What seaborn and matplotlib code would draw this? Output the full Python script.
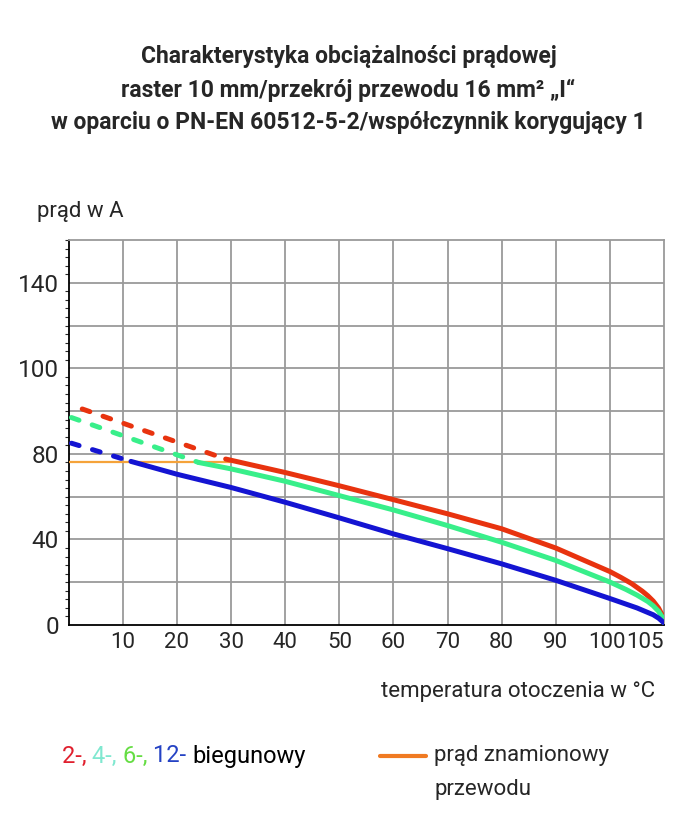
import matplotlib
matplotlib.use("Agg")
import matplotlib.pyplot as plt
import matplotlib.transforms as mtransforms
import seaborn as sns
import pandas as pd
import numpy as np
from matplotlib.ticker import MultipleLocator

sns.set_style("white")
plt.rcParams['font.family'] = ['Roboto', 'DejaVu Sans']

# ---- data ----
red_dash_t = [2.5, 29.0]
red_dash_a = [101.0, 77.6]
red_t = [29.0, 40, 50, 60, 70, 80, 90, 100, 102, 104, 106, 107, 108, 109, 109.6, 110]
red_a = [77.6, 71.3, 65.1, 58.6, 52.0, 45.0, 36.0, 25.0, 22.3, 19.4, 15.8, 13.7, 11.2, 7.9, 5.0, 1.0]

green_dash_t = [0.5, 24.0]
green_dash_a = [97.0, 76.0]
green_t = [24.0, 30, 40, 50, 60, 70, 80, 90, 100, 103, 105, 107, 108, 109, 109.6, 110]
green_a = [76.0, 73.0, 67.2, 60.5, 53.8, 46.5, 38.7, 30.2, 20.1, 16.6, 14.0, 11.0, 9.0, 6.4, 4.0, 1.0]

blue_dash_t = [0.5, 11.5]
blue_dash_a = [85.0, 76.5]
blue_t = [11.5, 20, 30, 40, 50, 60, 70, 80, 90, 100, 105, 108, 109, 110]
blue_a = [76.5, 70.5, 64.3, 57.4, 50.1, 42.6, 35.7, 28.6, 20.9, 12.4, 8.0, 4.8, 3.2, 1.0]

rated_t = [0, 30]
rated_a = [76, 76]

x_ticks = [10, 20, 30, 40, 50, 60, 70, 80, 90, 100, 110]
x_labels = ["10", "20", "30", "40", "50", "60", "70", "80", "90", "100", "105"]
y_ticks = [0, 40, 80, 120, 160]
y_labels = ["0", "40", "80", "100", "140"]

RED = "#e8330f"
GREEN = "#38ef8a"
BLUE = "#1414d2"
ORANGE = "#f5a33a"

fig = plt.figure(figsize=(6.97, 8.18), dpi=100)
ax = fig.add_axes([0.0986, 0.2359, 0.8541, 0.4707])

dash = dict(lw=3.6, linestyle=(0, (1.6, 2.8)), dash_capstyle="round")
solid = dict(lw=3.6, solid_capstyle="round", solid_joinstyle="round")

sns.lineplot(x=rated_t, y=rated_a, ax=ax, color=ORANGE, lw=1.6, zorder=3)
sns.lineplot(x=red_dash_t, y=red_dash_a, ax=ax, color=RED, zorder=4, **dash)
sns.lineplot(x=green_dash_t, y=green_dash_a, ax=ax, color=GREEN, zorder=4, **dash)
sns.lineplot(x=blue_dash_t, y=blue_dash_a, ax=ax, color=BLUE, zorder=4, **dash)
sns.lineplot(x=red_t, y=red_a, ax=ax, color=RED, zorder=5, **solid)
sns.lineplot(x=green_t, y=green_a, ax=ax, color=GREEN, zorder=5, **solid)
sns.lineplot(x=blue_t, y=blue_a, ax=ax, color=BLUE, zorder=5, **solid)

ax.set_xlim(0, 110)
ax.set_ylim(0, 180)
ax.set_xticks(x_ticks)
ax.set_xticklabels(x_labels, fontsize=16)
ax.set_yticks(y_ticks)
ax.set_yticklabels(y_labels, fontsize=17.5)
ax.xaxis.set_minor_locator(MultipleLocator(2))
ax.yaxis.set_minor_locator(MultipleLocator(4))
ax.tick_params(axis="x", which="major", length=0, pad=5)
ax.tick_params(axis="x", which="minor", direction="in", length=3, width=0.8)
ax.tick_params(axis="y", which="major", length=5, width=1, pad=2)
ax.tick_params(axis="y", which="minor", direction="out", length=3, width=0.8, left=True)
xl = ax.get_xticklabels()
xl[-1].set_ha("right")
xl[-2].set_transform(xl[-2].get_transform()
                     + mtransforms.ScaledTranslation(-3 / 100, 0, fig.dpi_scale_trans))

for g in [20, 40, 60, 80, 100, 120, 140, 160]:
    ax.axhline(g, color="#9a9a9a", lw=1.3, zorder=1)
for g in range(10, 110, 10):
    ax.axvline(g, color="#9a9a9a", lw=1.3, zorder=1)

for side in ["top", "right"]:
    ax.spines[side].set_color("#9a9a9a")
    ax.spines[side].set_linewidth(1.3)
for side in ["left", "bottom"]:
    ax.spines[side].set_color("black")
    ax.spines[side].set_linewidth(1.3)
ax.set_xlabel("")
ax.set_ylabel("")

title_kw = dict(ha="center", va="center", fontsize=16.5, fontweight="bold")
fig.text(0.5, 1 - 57 / 818, "Charakterystyka obciążalności prądowej", **title_kw)
fig.text(0.5, 1 - 90 / 818, "raster 10 mm/przekrój przewodu 16 mm² „I“", **title_kw)
fig.text(0.5, 1 - 122 / 818, "w oparciu o PN-EN 60512-5-2/współczynnik korygujący 1", **title_kw)

fig.text(37 / 697, 1 - 212 / 818, "prąd w A", ha="left", va="center", fontsize=16)
fig.text(655 / 697, 1 - 692 / 818, "temperatura otoczenia w °C", ha="right", va="center",
         fontsize=16)

# legend row
lx = 62 / 697
ly = 1 - 756 / 818
parts = [("2-, ", "#e0202e"), ("4-, ", "#80e8d0"), ("6-, ", "#66dd44"),
         ("12- ", "#2442c4"), ("biegunowy", "black")]
renderer = fig.canvas.get_renderer()
for txt, col in parts:
    t = fig.text(lx, ly, txt, ha="left", va="center", fontsize=17, color=col)
    bb = t.get_window_extent(renderer=renderer)
    lx += bb.width / fig.bbox.width

fig.add_artist(plt.Line2D([380 / 697, 426 / 697], [ly, ly], color="#f07a22", lw=3,
                          transform=fig.transFigure))
fig.text(434 / 697, ly, "prąd znamionowy", ha="left", va="center", fontsize=16)
fig.text(434 / 697, 1 - 790 / 818, "przewodu", ha="left", va="center", fontsize=16)

fig.savefig("out.png", dpi=100)
